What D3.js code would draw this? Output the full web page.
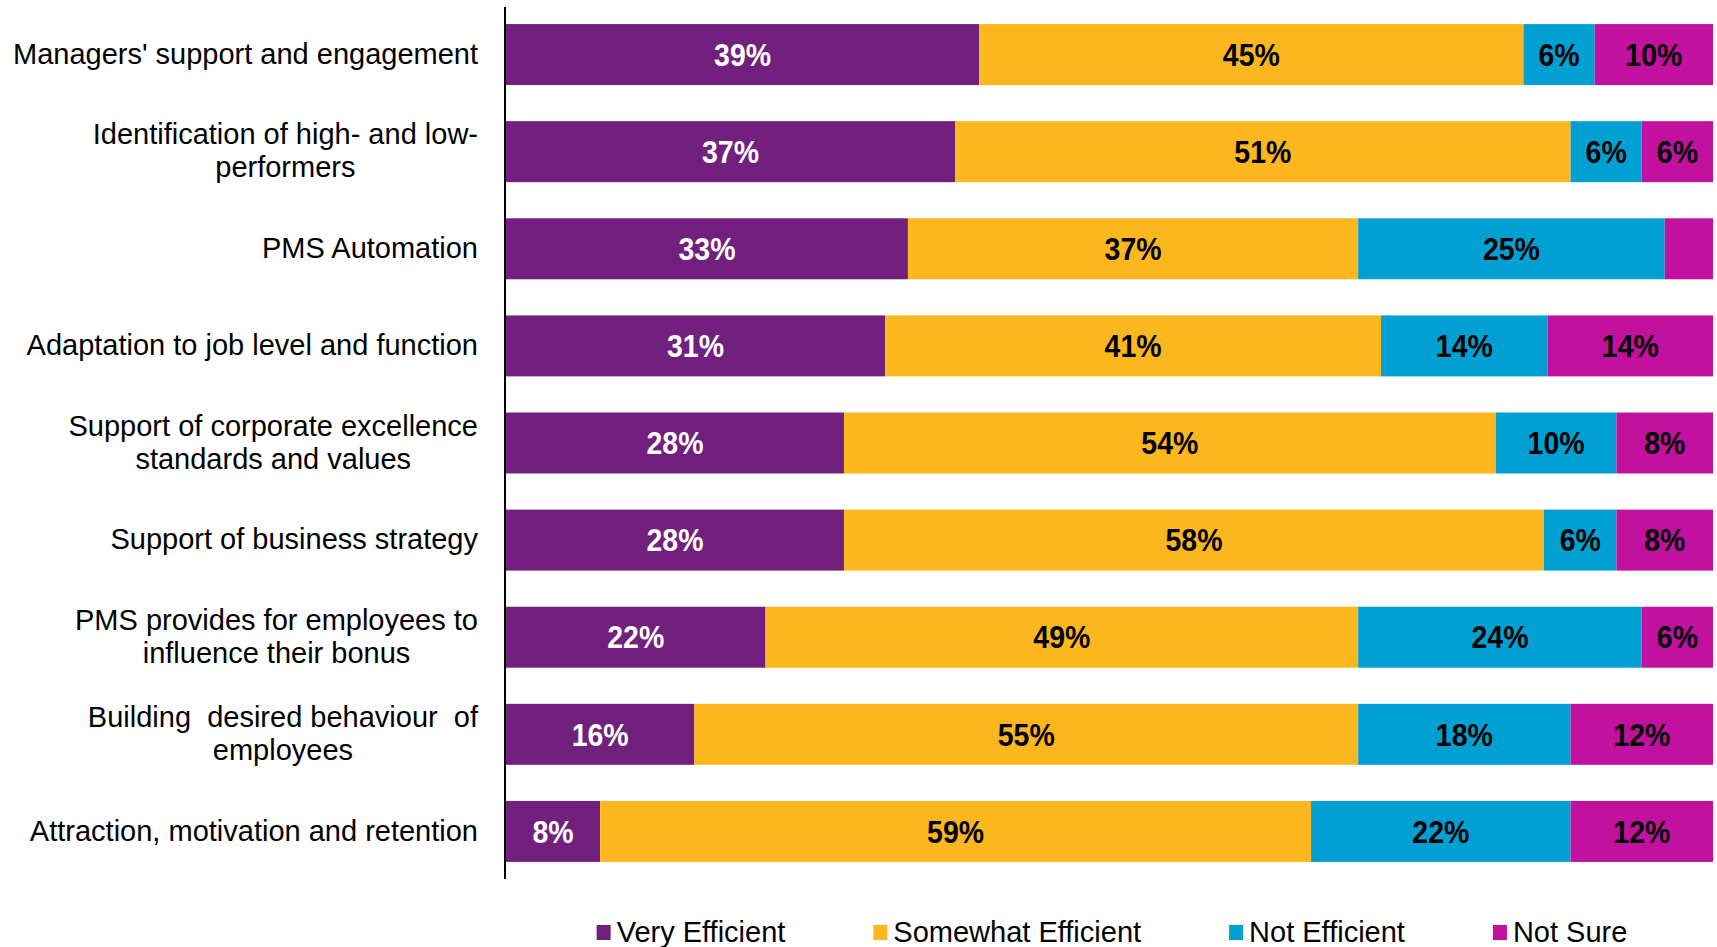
<!DOCTYPE html>
<html>
<head>
<meta charset="utf-8">
<script src="https://cdn.jsdelivr.net/npm/d3@7"></script>
<style>
  body { margin: 0; background: #fff; }
  text { font-family: "Liberation Sans", Arial, sans-serif; }
</style>
</head>
<body>
<div id="chart"></div>
<script>
// categories (top to bottom), lines split for wrapping
const categories = [
  ["Managers' support and engagement"],
  ["Identification of high- and low-", "performers"],
  ["PMS Automation"],
  ["Adaptation to job level and function"],
  ["Support of corporate excellence", "standards and values"],
  ["Support of business strategy"],
  ["PMS provides for employees to", "influence their bonus"],
  ["Building  desired behaviour  of", "employees"],
  ["Attraction, motivation and retention"]
];

const seriesNames = ["Very Efficient", "Somewhat Efficient", "Not Efficient", "Not Sure"];

// values in %
const veryEfficient     = [39.2, 37.2, 33.3, 31.4, 28, 28, 21.5, 15.6, 7.8];
const somewhatEfficient = [45.1, 51, 37.3, 41.1, 54, 58, 49.1, 55, 58.9];
const notEfficient      = [5.9, 5.9, 25.4, 13.8, 10, 6, 23.5, 17.6, 21.5];
const notSure           = [9.8, 5.9, 4, 13.7, 8, 8, 5.9, 11.8, 11.8];

const colors = ["#71207e", "#fdb71e", "#00a1d2", "#c1119e"];
const labelColors = ["#fff", "#000", "#000", "#000"];

const width = 1717, height = 947;
const margin = {top: 6, right: 4, bottom: 67, left: 506};

const rows = categories.map((c, i) => ({
  key: i,
  "Very Efficient": veryEfficient[i],
  "Somewhat Efficient": somewhatEfficient[i],
  "Not Efficient": notEfficient[i],
  "Not Sure": notSure[i]
}));

const stacked = d3.stack().keys(seriesNames).offset(d3.stackOffsetExpand)(rows);

const svg = d3.select("#chart")
  .append("svg")
    .attr("width", width)
    .attr("height", height);

const x = d3.scaleLinear()
    .domain([0, 1])
    .range([margin.left, width - margin.right]);

const y = d3.scaleBand()
    .domain(rows.map(d => d.key))
    .range([margin.top, height - margin.bottom])
    .paddingInner(0.372)
    .paddingOuter(0.186);

// bars
const layer = svg.selectAll(".layer")
  .data(stacked)
  .enter().append("g")
    .attr("class", "layer")
    .attr("fill", (d, i) => colors[i]);

layer.selectAll("rect")
  .data(d => d)
  .enter().append("rect")
    .attr("x", d => x(d[0]))
    .attr("y", d => y(d.data.key))
    .attr("width", d => x(d[1]) - x(d[0]))
    .attr("height", y.bandwidth());

// value labels (slightly stretched vertically like the original)
layer.each(function(s, si) {
  d3.select(this).selectAll("text")
    .data(s.filter(d => d.data[s.key] >= 5))
    .enter().append("text")
      .attr("transform", d => `translate(${(x(d[0]) + x(d[1])) / 2},${y(d.data.key) + y.bandwidth() / 2}) scale(1,1.12)`)
      .attr("dy", "0.35em")
      .attr("text-anchor", "middle")
      .attr("fill", labelColors[si])
      .style("font-size", "28.5px")
      .style("font-weight", "bold")
      .text(d => Math.round(d.data[s.key]) + "%");
});

// vertical axis line
svg.append("line")
    .attr("x1", margin.left - 1).attr("x2", margin.left - 1)
    .attr("y1", 7).attr("y2", 879)
    .attr("stroke", "#000")
    .attr("stroke-width", 2);

// category labels: block right aligned, lines centered
const lineH = 33;
const labelRight = 478;
categories.forEach((lines, i) => {
  const cy = y(i) + y.bandwidth() / 2;
  const t = svg.append("text")
      .attr("text-anchor", "middle")
      .style("font-size", "29px")
      .attr("fill", "#000");
  lines.forEach((ln, j) => {
    t.append("tspan")
      .attr("x", 0)
      .attr("y", cy + (j - (lines.length - 1) / 2) * lineH)
      .attr("dy", "0.32em")
      .attr("xml:space", "preserve")
      .text(ln);
  });
  const w = d3.max(t.selectAll("tspan").nodes(), n => n.getComputedTextLength());
  t.selectAll("tspan").attr("x", labelRight - w / 2);
});

// legend
const legend = svg.append("g");
const legendBase = 942;
let lx = 0;
seriesNames.forEach((name, i) => {
  const item = legend.append("g").attr("transform", `translate(${lx},0)`);
  item.append("rect")
    .attr("x", 0).attr("y", legendBase - 17)
    .attr("width", 14).attr("height", 15)
    .attr("fill", colors[i]);
  const t = item.append("text")
    .attr("x", 20).attr("y", legendBase)
    .style("font-size", "29px")
    .text(name);
  lx += 20 + t.node().getComputedTextLength() + 88;
});
const legendW = lx - 88;
legend.attr("transform", `translate(${1112 - legendW / 2},0)`);
</script>
</body>
</html>
